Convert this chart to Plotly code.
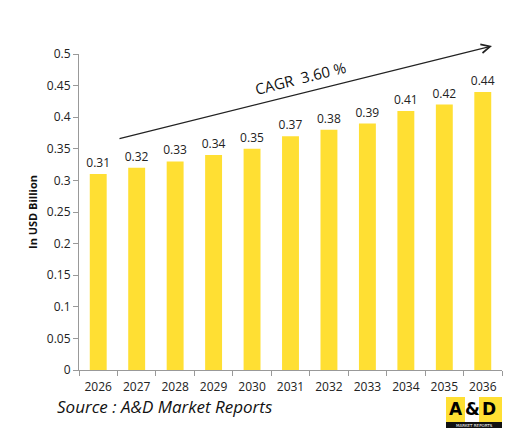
import plotly.graph_objects as go

years = ["2026", "2027", "2028", "2029", "2030", "2031", "2032", "2033", "2034", "2035", "2036"]
values = [0.31, 0.32, 0.33, 0.34, 0.35, 0.37, 0.38, 0.39, 0.41, 0.42, 0.44]
value_labels = ["0.31", "0.32", "0.33", "0.34", "0.35", "0.37", "0.38", "0.39", "0.41", "0.42", "0.44"]
y_ticks = [0, 0.05, 0.1, 0.15, 0.2, 0.25, 0.3, 0.35, 0.4, 0.45, 0.5]
y_tick_text = ["0", "0.05", "0.1", "0.15", "0.2", "0.25", "0.3", "0.35", "0.4", "0.45", "0.5"]

# page body has an 8px margin, so the figure is shrunk by that much
OFF = 8
W, H = 528 - OFF, 437 - OFF
# plot area in window pixels: x 79..502, y 54..370
X0, X1, Y0, Y1 = 79, 502, 54, 370
FONT = "Open Sans"


def px(x):
    return (x - X0) / (X1 - X0)


def py(y):
    return (Y1 - y) / (Y1 - Y0)


fig = go.Figure()

fig.add_trace(
    go.Bar(
        x=years,
        y=values,
        text=value_labels,
        textposition="outside",
        constraintext="none",
        textfont=dict(family=FONT, size=12, color="#222222"),
        marker=dict(color="#FFDF33", line=dict(width=0)),
        cliponaxis=False,
    )
)

# ---- CAGR arrow ----
fig.add_annotation(
    x=px(492), y=py(46), xref="paper", yref="paper",
    ax=118 - 492, ay=139 - 46, axref="pixel", ayref="pixel",
    showarrow=True, arrowhead=5, arrowsize=1.6, arrowwidth=1.1,
    arrowcolor="#222222", text="",
)
fig.add_annotation(
    x=px(300), y=py(78), xref="paper", yref="paper",
    xanchor="center", yanchor="middle",
    text="CAGR  3.60 %", showarrow=False, textangle=-14,
    font=dict(family=FONT, size=15, color="#111111"),
)

# ---- source ----
fig.add_annotation(
    x=px(55), y=py(406), xref="paper", yref="paper",
    xanchor="left", yanchor="middle", showarrow=False,
    text="<i>Source : A&D Market Reports</i>",
    font=dict(family=FONT, size=17, color="#111111"),
)

# ---- logo ----
logo = [
    (446, 465, 397, 422, "#FFDF33"),
    (465, 479, 397, 422, "#FFFFFF"),
    (479, 502, 397, 422, "#FFDF33"),
    (446, 502, 422, 428, "#111111"),
]
for x0, x1, y0, y1, c in logo:
    fig.add_shape(
        type="rect", xref="paper", yref="paper",
        x0=px(x0), x1=px(x1), y0=py(y1), y1=py(y0),
        fillcolor=c, line=dict(width=0),
    )
for cx, ch in [(456, "A"), (472, "&"), (489, "D")]:
    fig.add_annotation(
        x=px(cx), y=py(409), xref="paper", yref="paper",
        xanchor="center", yanchor="middle",
        text="<b>" + ch + "</b>", showarrow=False,
        font=dict(family="DejaVu Sans", size=17, color="#000000"),
    )
fig.add_annotation(
    x=px(474), y=py(425), xref="paper", yref="paper",
    xanchor="center", yanchor="middle",
    text="MARKET REPORTS", showarrow=False,
    font=dict(family="DejaVu Sans", size=4, color="#FFFFFF"),
)

fig.update_layout(
    width=W, height=H,
    margin=dict(l=X0 - OFF, r=W + OFF - X1, t=Y0 - OFF, b=H + OFF - Y1),
    paper_bgcolor="white", plot_bgcolor="white",
    bargap=0.56, showlegend=False,
    font=dict(family=FONT, color="#222222"),
)
fig.update_xaxes(
    type="category", showgrid=False, showline=True, linecolor="#999999",
    ticks="outside", tickson="boundaries", ticklen=5, tickcolor="#999999",
    ticklabelstandoff=6,
    tickfont=dict(family=FONT, size=12, color="#222222"),
)
fig.update_yaxes(
    range=[0, 0.5], tickvals=y_ticks, ticktext=y_tick_text,
    showgrid=False, zeroline=False, showline=True, linecolor="#999999",
    ticks="outside", ticklen=5, tickcolor="#999999",
    tickfont=dict(family=FONT, size=12, color="#222222"),
    title=dict(text="<b>In USD Billion</b>", standoff=6,
               font=dict(family=FONT, size=11, color="#111111")),
)

fig.write_html("out.html")
